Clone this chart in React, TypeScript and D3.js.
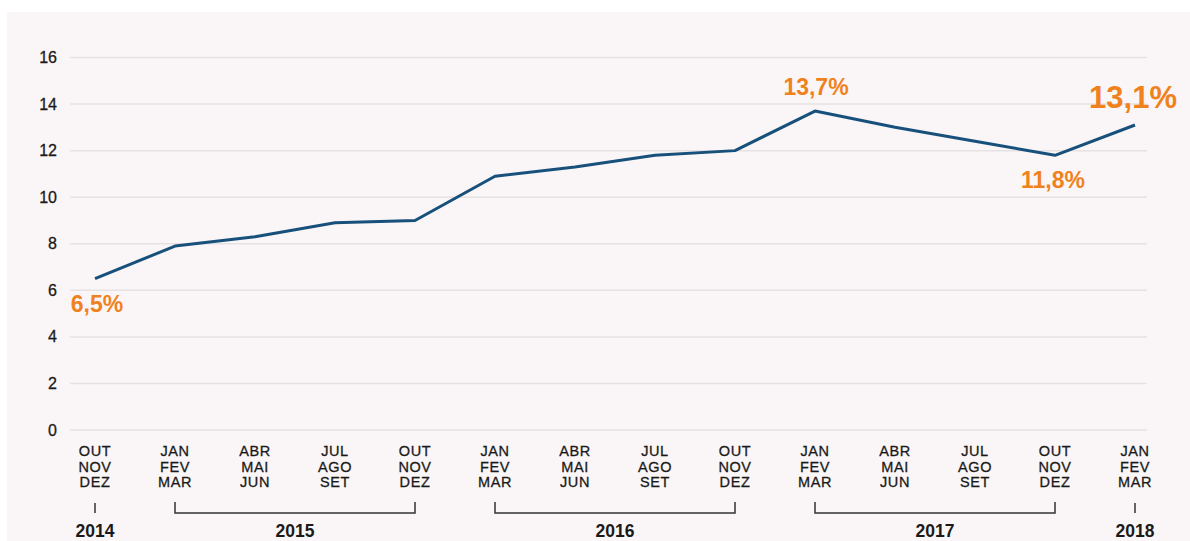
import React from "react";
import * as d3 from "d3";

const quarters = [
  ["OUT", "NOV", "DEZ"],
  ["JAN", "FEV", "MAR"],
  ["ABR", "MAI", "JUN"],
  ["JUL", "AGO", "SET"],
  ["OUT", "NOV", "DEZ"],
  ["JAN", "FEV", "MAR"],
  ["ABR", "MAI", "JUN"],
  ["JUL", "AGO", "SET"],
  ["OUT", "NOV", "DEZ"],
  ["JAN", "FEV", "MAR"],
  ["ABR", "MAI", "JUN"],
  ["JUL", "AGO", "SET"],
  ["OUT", "NOV", "DEZ"],
  ["JAN", "FEV", "MAR"],
];
const values = [6.5, 7.9, 8.3, 8.9, 9.0, 10.9, 11.3, 11.8, 12.0, 13.7, 13.0, 12.4, 11.8, 13.1];
const yTicks = [0, 2, 4, 6, 8, 10, 12, 14, 16];
const years = [
  { label: "2014", from: 0, to: 0 },
  { label: "2015", from: 1, to: 4 },
  { label: "2016", from: 5, to: 8 },
  { label: "2017", from: 9, to: 12 },
  { label: "2018", from: 13, to: 13 },
];
const callouts = [
  { i: 0, text: "6,5%", dx: 2, dy: 33, size: 23 },
  { i: 9, text: "13,7%", dx: 1, dy: -16, size: 23 },
  { i: 12, text: "11,8%", dx: -2, dy: 33, size: 23 },
  { i: 13, text: "13,1%", dx: -2, dy: -17, size: 31 },
];

const W = 1190;
const H = 541;

export default function App() {
  const x = d3.scaleLinear().domain([0, values.length - 1]).range([95, 1135]);
  const y = d3.scaleLinear().domain([0, 16]).range([430, 57.5]);
  const line = d3
    .line<number>()
    .x((_, i) => x(i))
    .y((d) => y(d));
  const gridX0 = 70;
  const gridX1 = 1147;

  return (
    <div style={{ position: "absolute", left: 0, top: 0, width: W, height: H, background: "#fff" }}>
      <svg width={W} height={H} style={{ display: "block" }}>
        <rect x={7} y={12} width={W - 7} height={H - 12} fill="#faf6f7" />
        {yTicks.map((t) => (
          <g key={t}>
            <line x1={gridX0} x2={gridX1} y1={y(t)} y2={y(t)} stroke="#e6e2e4" strokeWidth={1.5} />
            <text
              x={57}
              y={y(t)}
              dy="0.35em"
              textAnchor="end"
              fontFamily="'Liberation Sans', Arial, sans-serif"
              fontSize={16}
              fill="#1a1a1a"
              stroke="#1a1a1a"
              strokeWidth={0.3}
            >
              {t}
            </text>
          </g>
        ))}
        <path d={line(values) || ""} fill="none" stroke="#18507c" strokeWidth={3} strokeLinejoin="round" />
        {quarters.map((q, i) => (
          <text
            key={i}
            x={x(i)}
            textAnchor="middle"
            fontFamily="'Liberation Sans', Arial, sans-serif"
            fontSize={14.5}
            fill="#1a1a1a"
            stroke="#1a1a1a"
            strokeWidth={0.3}
            letterSpacing={0.6}
          >
            {q.map((m, j) => (
              <tspan key={j} x={x(i)} y={456 + j * 15.5}>
                {m}
              </tspan>
            ))}
          </text>
        ))}
        {years.map((yr) => {
          const a = x(yr.from);
          const b = x(yr.to);
          return (
            <g key={yr.label}>
              {yr.from === yr.to ? (
                <line x1={a} x2={a} y1={503} y2={513} stroke="#333" strokeWidth={1.5} />
              ) : (
                <path
                  d={`M${a},502V513H${b}V502`}
                  fill="none"
                  stroke="#333"
                  strokeWidth={1.5}
                />
              )}
              <text
                x={(a + b) / 2}
                y={537}
                textAnchor="middle"
                fontFamily="'Liberation Sans', Arial, sans-serif"
                fontSize={17.5}
                fontWeight={700}
                fill="#1a1a1a"
              >
                {yr.label}
              </text>
            </g>
          );
        })}
        {callouts.map((c) => (
          <text
            key={c.i}
            x={x(c.i) + c.dx}
            y={y(values[c.i]) + c.dy}
            textAnchor="middle"
            fontFamily="'Liberation Sans', Arial, sans-serif"
            fontWeight={700}
            fontSize={c.size}
            fill="#f0821e"
          >
            {c.text}
          </text>
        ))}
      </svg>
    </div>
  );
}
